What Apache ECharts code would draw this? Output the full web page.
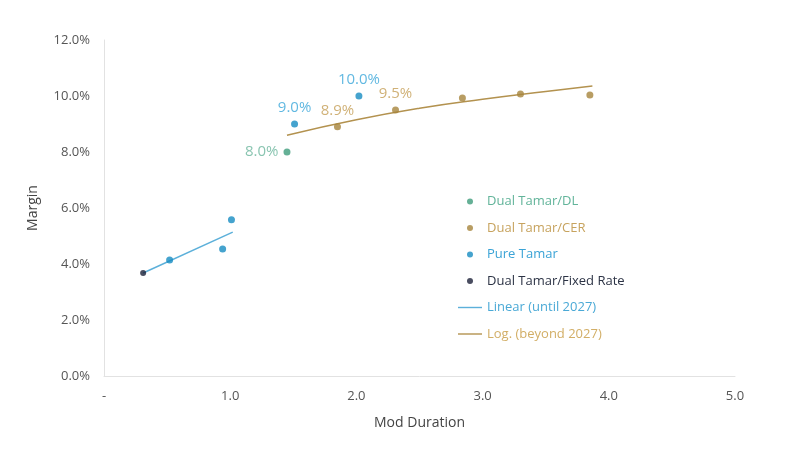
<!DOCTYPE html>
<html>
<head>
<meta charset="utf-8">
<script src="https://cdn.jsdelivr.net/npm/echarts@6/dist/echarts.min.js"></script>
<style>
html, body { margin: 0; padding: 0; background: #fff; }
#main { width: 800px; height: 457px; }
</style>
</head>
<body>
<div id="main"></div>
<script>
// [mod duration, margin %]
var dualTamarDL = [[1.45, 8.0]];
var dualTamarCER = [[1.85, 8.9], [2.31, 9.5], [2.84, 9.93], [3.30, 10.07], [3.85, 10.04]];
var pureTamar = [[0.52, 4.14], [0.94, 4.54], [1.01, 5.58], [1.51, 9.0], [2.02, 10.0]];
var dualTamarFixed = [[0.31, 3.68]];
var linearTrend = [[0.31, 3.68], [1.02, 5.14]];
var logTrend = [[1.45, 8.6], [2.0, 9.15], [2.5, 9.56], [3.0, 9.88], [3.5, 10.16], [3.87, 10.36]];

// which points carry a value label
var labelled = {
	'1.45': 'left',
	'1.51': 'top',
	'2.02': 'top',
	'1.85': 'top',
	'2.31': 'top'
};

var lineIcon = 'path://M0,0 L24,0 L24,1.4 L0,1.4 Z';

function labelFor(color) {
	return {
		show: true,
		color: color,
		fontSize: 15,
		fontFamily: 'Open Sans',
		distance: 5,
		formatter: function(p) {
			return p.value[1].toFixed(1) + '%';
		}
	};
}

function pointsWithLabels(arr, color) {
	return arr.map(function(d) {
		var pos = labelled[String(d[0])];
		if (pos) {
			var l = labelFor(color);
			l.position = pos;
			return { value: d, label: l };
		}
		return { value: d };
	});
}

var chart = echarts.init(document.getElementById('main'));
chart.setOption({
	animation: false,
	grid: { left: 104, right: 65, top: 40, bottom: 81 },
	xAxis: {
		type: 'value',
		min: 0,
		max: 5,
		interval: 1,
		name: 'Mod Duration',
		nameLocation: 'middle',
		nameGap: 40,
		nameTextStyle: { color: '#444', fontSize: 14, fontFamily: 'Open Sans' },
		axisLine: { show: true, lineStyle: { color: '#e2e2e2', width: 1 } },
		axisTick: { show: false },
		splitLine: { show: false },
		axisLabel: {
			color: '#555',
			fontSize: 13,
			fontFamily: 'Open Sans',
			margin: 14,
			formatter: function(v) { return v === 0 ? '-' : v.toFixed(1); }
		}
	},
	yAxis: {
		type: 'value',
		min: 0,
		max: 12,
		interval: 2,
		name: 'Margin',
		nameLocation: 'middle',
		nameGap: 64,
		nameRotate: 90,
		nameTextStyle: { color: '#444', fontSize: 14, fontFamily: 'Open Sans' },
		axisLine: { show: true, lineStyle: { color: '#e2e2e2', width: 1 } },
		axisTick: { show: false },
		splitLine: { show: false },
		axisLabel: {
			color: '#555',
			fontSize: 13,
			fontFamily: 'Open Sans',
			margin: 14,
			formatter: function(v) { return v.toFixed(1) + '%'; }
		}
	},
	legend: {
		orient: 'vertical',
		left: 453,
		top: 190,
		itemWidth: 24,
		itemHeight: 6,
		itemGap: 13.5,
		textStyle: { fontSize: 13, fontFamily: 'Open Sans' },
		data: [
			{ name: 'Dual Tamar/DL', textStyle: { color: '#62b49a' } },
			{ name: 'Dual Tamar/CER', textStyle: { color: '#c7a35e' } },
			{ name: 'Pure Tamar', textStyle: { color: '#3aa3d6' } },
			{ name: 'Dual Tamar/Fixed Rate', textStyle: { color: '#2c3345' } },
			{ name: 'Linear (until 2027)', icon: lineIcon, textStyle: { color: '#4aa9d6' } },
			{ name: 'Log. (beyond 2027)', icon: lineIcon, textStyle: { color: '#d2ae66' } }
		]
	},
	series: [
		{
			name: 'Linear (until 2027)',
			type: 'line',
			data: linearTrend,
			symbol: 'none',
			lineStyle: { color: '#5cb0da', width: 1.5 },
			itemStyle: { color: '#5cb0da' },
			z: 1
		},
		{
			name: 'Log. (beyond 2027)',
			type: 'line',
			data: logTrend,
			smooth: true,
			symbol: 'none',
			lineStyle: { color: '#b3924f', width: 1.5 },
			itemStyle: { color: '#b3924f' },
			z: 1
		},
		{
			name: 'Dual Tamar/DL',
			type: 'scatter',
			symbolSize: 7,
			data: pointsWithLabels(dualTamarDL, '#6ab59c'),
			itemStyle: { color: '#3f9c7c' },
			z: 3
		},
		{
			name: 'Dual Tamar/CER',
			type: 'scatter',
			symbolSize: 7,
			data: pointsWithLabels(dualTamarCER, '#c49d55'),
			itemStyle: { color: '#a6843c' },
			z: 3
		},
		{
			name: 'Pure Tamar',
			type: 'scatter',
			symbolSize: 7,
			data: pointsWithLabels(pureTamar, '#3aa6da'),
			itemStyle: { color: '#168cc2' },
			z: 3
		},
		{
			name: 'Dual Tamar/Fixed Rate',
			type: 'scatter',
			symbolSize: 6,
			data: dualTamarFixed,
			itemStyle: { color: '#1b2138' },
			z: 3
		}
	]
});
</script>
</body>
</html>
